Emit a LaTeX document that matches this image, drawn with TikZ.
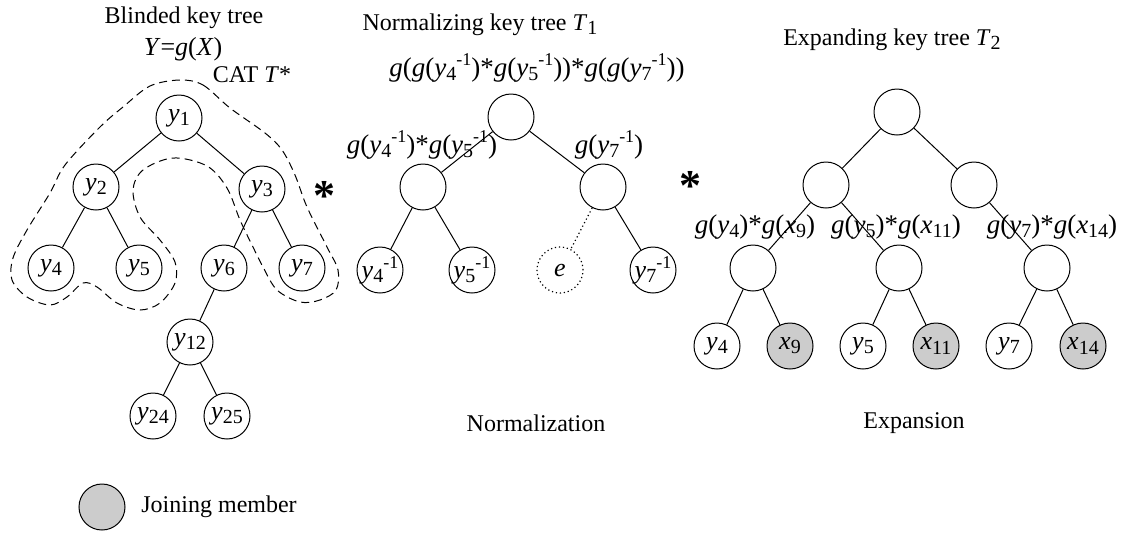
\documentclass[tikz,border=0pt]{standalone}
\usepackage{fontspec}
\setmainfont{Liberation Serif}
\newcommand\lo[1]{\raisebox{-0.35ex}{\fontsize{10}{10}\selectfont #1}}
\newcommand\hi[1]{\raisebox{0.85ex}{\fontsize{9}{9}\selectfont #1}}
\newcommand\vv[2]{\textit{#1}\lo{#2}}
\begin{document}
\begin{tikzpicture}[x=0.5pt,y=-0.5pt,
  every node/.style={font=\fontsize{13}{15}\selectfont},
  nd/.style={circle,draw,line width=0.5pt,minimum size=23pt,inner sep=0pt},
  jn/.style={nd,fill=gray!40},
  dnd/.style={circle,draw,line width=0.6pt,dash pattern=on 0.6pt off 1.4pt,minimum size=23pt,inner sep=0pt},
  lbl/.style={font=\fontsize{13.5}{15}\selectfont,inner sep=0pt},
  ttl/.style={font=\fontsize{12}{14}\selectfont,inner sep=0pt},
  edge/.style={line width=0.5pt},
  star/.style={font=\fontsize{22}{22}\selectfont\bfseries,inner sep=0pt}]
\useasboundingbox (0,0) rectangle (1126,532);

% ---------- left tree ----------
\node[ttl] (t1) at (184,18) {Blinded key tree};
\node[ttl,font=\fontsize{13}{15}\selectfont] (t1b) at (183,49) {\textit{Y}=\textit{g}(\textit{X})};
\node[ttl] (cat) at (252,75) {CAT \textit{T}*};

\node[nd] (y1) at (179,118) {\vv{y}{1}};
\node[nd] (y2) at (96,187) {\vv{y}{2}};
\node[nd] (y3) at (262,189) {\vv{y}{3}};
\node[nd] (y4) at (51,268) {\vv{y}{4}};
\node[nd] (y5) at (139,268) {\vv{y}{5}};
\node[nd] (y6) at (224,268) {\vv{y}{6}};
\node[nd] (y7) at (302,268) {\vv{y}{7}};
\node[nd] (y12) at (190,342) {\vv{y}{12}};
\node[nd] (y24) at (153,416) {\vv{y}{24}};
\node[nd] (y25) at (227,416) {\vv{y}{25}};
\foreach \a/\b in {y1/y2,y1/y3,y2/y4,y2/y5,y3/y6,y3/y7,y6/y12,y12/y24,y12/y25}
  \draw[edge] (\a) -- (\b);

\draw[line width=0.5pt,dash pattern=on 4pt off 2.5pt] plot[smooth cycle,tension=0.55] coordinates {
 (180,80) (203,85) (230,108) (265,133) (282,150) (295,175) (307,207) (327,247) (338,270)
 (336,290) (320,300) (300,302) (277,290) (263,267) (253,247) (240,220) (227,188) (207,166)
 (173,158) (143,170) (133,190) (140,217) (160,240) (175,262) (175,283) (160,303) (140,310)
 (117,303) (97,287) (83,283) (67,297) (50,305) (27,297) (12,280) (13,258) (27,230)
 (50,193) (65,165) (100,127) (123,107) (150,86)};

\node[star] (s1) at (324,196) {*};

% ---------- middle tree ----------
\node[ttl] (t2) at (480,25) {Normalizing key tree \textit{T}\lo{1}};
\node[lbl] (l0) at (537,68) {\textit{g}(\textit{g}(\vv{y}{4}\hi{-1})*\textit{g}(\vv{y}{5}\hi{-1}))*\textit{g}(\textit{g}(\vv{y}{7}\hi{-1}))};
\node[nd] (m0) at (511,117) {};
\node[lbl] (l1) at (422,145) {\textit{g}(\vv{y}{4}\hi{-1})*\textit{g}(\vv{y}{5}\hi{-1})};
\node[lbl] (l2) at (609,145) {\textit{g}(\vv{y}{7}\hi{-1})};
\node[nd] (m1) at (423,187) {};
\node[nd] (m2) at (603,187) {};
\node[nd] (m3) at (380,270) {\vv{y}{4}\hi{-1}};
\node[nd] (m4) at (472,270) {\vv{y}{5}\hi{-1}};
\node[dnd] (me) at (560,270) {\textit{e}};
\node[nd] (m6) at (653,270) {\vv{y}{7}\hi{-1}};
\foreach \a/\b in {m0/m1,m0/m2,m1/m3,m1/m4,m2/m6}
  \draw[edge] (\a) -- (\b);
\draw[line width=0.6pt,dash pattern=on 0.6pt off 1.4pt] (m2) -- (me);
\node[star] (s2) at (690,186) {*};
\node[ttl] (nrm) at (536,423) {Normalization};

% ---------- right tree ----------
\node[ttl] (t3) at (892,40) {Expanding key tree \textit{T}\lo{2}};
\node[nd] (r0) at (897,112) {};
\node[nd] (r1) at (826,185) {};
\node[nd] (r2) at (974,185) {};
\node[lbl] (la) at (755,227) {\textit{g}(\vv{y}{4})*\textit{g}(\vv{x}{9})};
\node[lbl] (lb) at (896,227) {\textit{g}(\vv{y}{5})*\textit{g}(\vv{x}{11})};
\node[lbl] (lc) at (1052,227) {\textit{g}(\vv{y}{7})*\textit{g}(\vv{x}{14})};
\node[nd] (ra) at (753,268) {};
\node[nd] (rb) at (899,268) {};
\node[nd] (rc) at (1047,268) {};
\node[nd] (q1) at (717,346) {\vv{y}{4}};
\node[jn] (q2) at (790,346) {\vv{x}{9}};
\node[nd] (q3) at (863,346) {\vv{y}{5}};
\node[jn] (q4) at (936,346) {\vv{x}{11}};
\node[nd] (q5) at (1009,346) {\vv{y}{7}};
\node[jn] (q6) at (1083,346) {\vv{x}{14}};
\foreach \a/\b in {r0/r1,r0/r2,r1/ra,r1/rb,r2/rc,ra/q1,ra/q2,rb/q3,rb/q4,rc/q5,rc/q6}
  \draw[edge] (\a) -- (\b);
\node[ttl] (exp) at (914,423) {Expansion};

% ---------- legend ----------
\node[jn] (leg) at (102,507) {};
\node[ttl,anchor=west] (legt) at (141,507) {Joining member};
\end{tikzpicture}
\end{document}
